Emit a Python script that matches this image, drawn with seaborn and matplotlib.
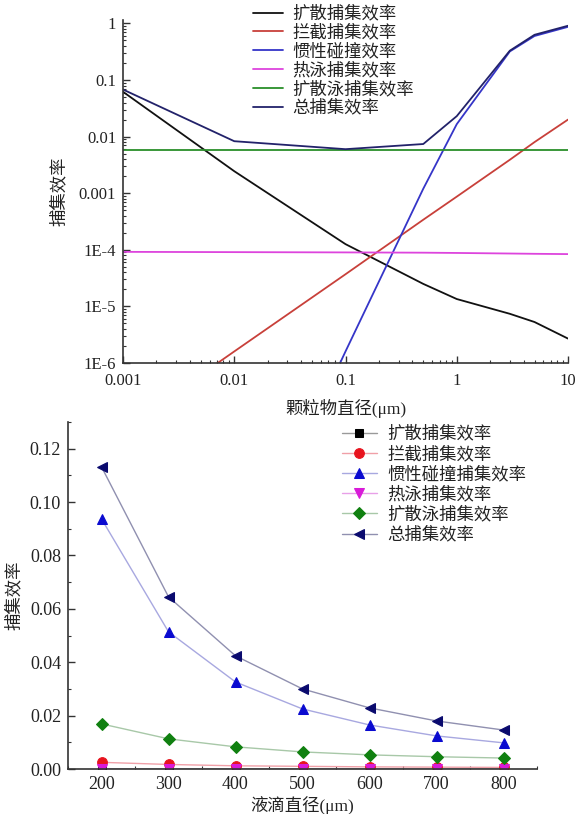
import numpy as np
import pandas as pd
import matplotlib
matplotlib.use("Agg")
import matplotlib.pyplot as plt
import seaborn as sns
from matplotlib.ticker import FixedLocator, FixedFormatter, MultipleLocator, LogLocator, NullFormatter

# ---------------- data: top panel ----------------
dp_um = [0.001, 0.01, 0.1, 0.5, 1, 3, 5, 10]
eff_diffusion = [0.062, 0.00245, 1.26e-4, 2.5e-5, 1.35e-5, 7.4e-6, 5.3e-6, 2.7e-6]
eff_interception = [6.8e-8, 1.6e-6, 3.7e-5, 3.4e-4, 8.7e-4, 3.9e-3, 8.0e-3, 0.02]
eff_inertial = [1e-14, 1e-10, 1.6e-6, 1.2e-3, 0.0166, 0.32, 0.6, 0.87]
eff_thermo = [9.2e-5, 9.1e-5, 9.0e-5, 8.9e-5, 8.8e-5, 8.6e-5, 8.5e-5, 8.4e-5]
eff_diffusiophoresis = [0.0057, 0.0057, 0.0057, 0.0057, 0.0057, 0.0057, 0.0057, 0.0057]
eff_total = [0.068, 0.0083, 0.006, 0.0074, 0.023, 0.33, 0.63, 0.91]

top_labels = ["扩散捕集效率", "拦截捕集效率", "惯性碰撞效率", "热泳捕集效率", "扩散泳捕集效率", "总捕集效率"]
top_xticks = [0.001, 0.01, 0.1, 1, 10]
top_xticklabels = ["0.001", "0.01", "0.1", "1", "10"]
top_yticks = [1e-6, 1e-5, 1e-4, 1e-3, 1e-2, 1e-1, 1]
top_yticklabels = ["1E-6", "1E-5", "1E-4", "0.001", "0.01", "0.1", "1"]

# ---------------- data: bottom panel ----------------
drop_um = [200, 300, 400, 500, 600, 700, 800]
b_diffusion = [1e-5, 8e-6, 6e-6, 5e-6, 4e-6, 3.5e-6, 3e-6]
b_interception = [0.0025, 0.0017, 0.0012, 0.0010, 0.0008, 0.0007, 0.0006]
b_inertial = [0.0937, 0.0514, 0.0326, 0.0225, 0.0165, 0.0124, 0.0098]
b_thermo = [0.0001, 0.0001, 0.0001, 0.0001, 0.0001, 0.0001, 0.0001]
b_diffusiophoresis = [0.0169, 0.0113, 0.0083, 0.0064, 0.0053, 0.0046, 0.0041]
b_total = [0.1132, 0.0645, 0.0424, 0.0300, 0.0229, 0.0180, 0.0146]
bottom_labels = ["扩散捕集效率", "拦截捕集效率", "惯性碰撞捕集效率", "热泳捕集效率", "扩散泳捕集效率", "总捕集效率"]
bottom_xticks = [200, 300, 400, 500, 600, 700, 800]
bottom_yticks = [0.00, 0.02, 0.04, 0.06, 0.08, 0.10, 0.12]

sns.set_theme(style="ticks")
plt.rcParams["font.family"] = ["Liberation Serif", "Noto Sans CJK SC"]
plt.rcParams["axes.unicode_minus"] = False
plt.rcParams["text.color"] = "#222222"
plt.rcParams["axes.labelcolor"] = "#222222"
plt.rcParams["xtick.color"] = "#333333"
plt.rcParams["ytick.color"] = "#333333"
plt.rcParams["xtick.labelcolor"] = "#222222"
plt.rcParams["ytick.labelcolor"] = "#222222"

W, H = 582, 814
fig = plt.figure(figsize=(W / 100, H / 100), dpi=100)

def px_axes(l, t, r, b):
    return fig.add_axes([l / W, 1 - b / H, (r - l) / W, (b - t) / H])

# ---------------- top panel ----------------
ax1 = px_axes(123, 20, 568, 363)
top_series = [eff_diffusion, eff_interception, eff_inertial, eff_thermo, eff_diffusiophoresis, eff_total]
top_colors = ["#111111", "#c8403a", "#3535c8", "#dd44dd", "#2a8f2a", "#22226a"]
for vals, lab, col in zip(top_series, top_labels, top_colors):
    df = pd.DataFrame({"x": dp_um, "y": vals})
    sns.lineplot(data=df, x="x", y="y", ax=ax1, color=col, linewidth=1.3, label=lab)
ax1.set_xscale("log")
ax1.set_yscale("log")
ax1.set_xlim(0.001, 10)
ax1.set_ylim(1e-6, 1.15)
ax1.xaxis.set_major_locator(FixedLocator(top_xticks))
ax1.xaxis.set_major_formatter(FixedFormatter(top_xticklabels))
ax1.yaxis.set_major_locator(FixedLocator(top_yticks))
ax1.yaxis.set_major_formatter(FixedFormatter(top_yticklabels))
ax1.xaxis.set_minor_locator(LogLocator(base=10, subs=np.arange(2, 10)))
ax1.yaxis.set_minor_locator(LogLocator(base=10, subs=np.arange(2, 10)))
ax1.xaxis.set_minor_formatter(NullFormatter())
ax1.yaxis.set_minor_formatter(NullFormatter())
ax1.set_xlabel("颗粒物直径(μm)", fontsize=12.5)
ax1.set_ylabel("捕集效率", fontsize=12.5)
ax1.xaxis.set_label_coords(0.5, -0.105)
ax1.yaxis.set_label_coords(-0.125, 0.5)
leg1 = ax1.legend(loc="upper left", bbox_to_anchor=(253 / W, 1 - 6 / H), bbox_transform=fig.transFigure,
                  frameon=False, fontsize=12.5, handlelength=1.75, handletextpad=0.5,
                  labelspacing=0.12, borderpad=0, borderaxespad=0)

# ---------------- bottom panel ----------------
ax2 = px_axes(68, 422, 537, 769)
bottom_series = [b_diffusion, b_interception, b_inertial, b_thermo, b_diffusiophoresis, b_total]
bottom_colors = ["#000000", "#e8141e", "#0a0ad0", "#d81ad8", "#108010", "#0a0a6e"]
line_colors = ["#9a9a9a", "#f0a0a8", "#a8a8e0", "#e8a0e8", "#a8c8a8", "#9090b0"]
markers = ["s", "o", "^", "v", "D", "<"]
msizes = [6, 7, 7.5, 7.5, 6, 7.5]
for vals, lab, col, lc, m, ms in zip(bottom_series, bottom_labels, bottom_colors, line_colors, markers, msizes):
    df = pd.DataFrame({"x": drop_um, "y": vals})
    sns.lineplot(data=df, x="x", y="y", ax=ax2, color=lc, linewidth=1.0, label=lab,
                 marker=m, markersize=ms, markerfacecolor=col, markeredgecolor=col)
ax2.set_xlim(150, 850)
ax2.set_ylim(0, 0.13)
ax2.xaxis.set_major_locator(FixedLocator(bottom_xticks))
ax2.yaxis.set_major_locator(FixedLocator(bottom_yticks))
ax2.yaxis.set_major_formatter(FixedFormatter([f"{v:.2f}" for v in bottom_yticks]))
ax2.xaxis.set_minor_locator(MultipleLocator(50))
ax2.yaxis.set_minor_locator(MultipleLocator(0.01))
ax2.set_xlabel("液滴直径(μm)", fontsize=12.5)
ax2.set_ylabel("捕集效率", fontsize=12.5)
ax2.xaxis.set_label_coords(0.5, -0.077)
ax2.yaxis.set_label_coords(-0.097, 0.5)
leg2 = ax2.legend(loc="upper left", bbox_to_anchor=(342 / W, 1 - 426 / H), bbox_transform=fig.transFigure,
                  frameon=False, fontsize=12.5, handlelength=2.0, handletextpad=0.6,
                  labelspacing=0.2, borderpad=0, borderaxespad=0)

for ax, tsize, xpad in ((ax1, 12, 7), (ax2, 13, 5)):
    sns.despine(ax=ax)
    for s in ("left", "bottom"):
        ax.spines[s].set_linewidth(1.2)
        ax.spines[s].set_color("#333333")
    ax.tick_params(which="major", direction="in", length=5, width=1.0, labelsize=tsize)
    ax.tick_params(which="minor", direction="in", length=2.5, width=0.8)
    ax.tick_params(axis="x", which="major", pad=xpad)
    ax.tick_params(axis="y", which="major", pad=5)

fig.savefig("out.png", dpi=100)
